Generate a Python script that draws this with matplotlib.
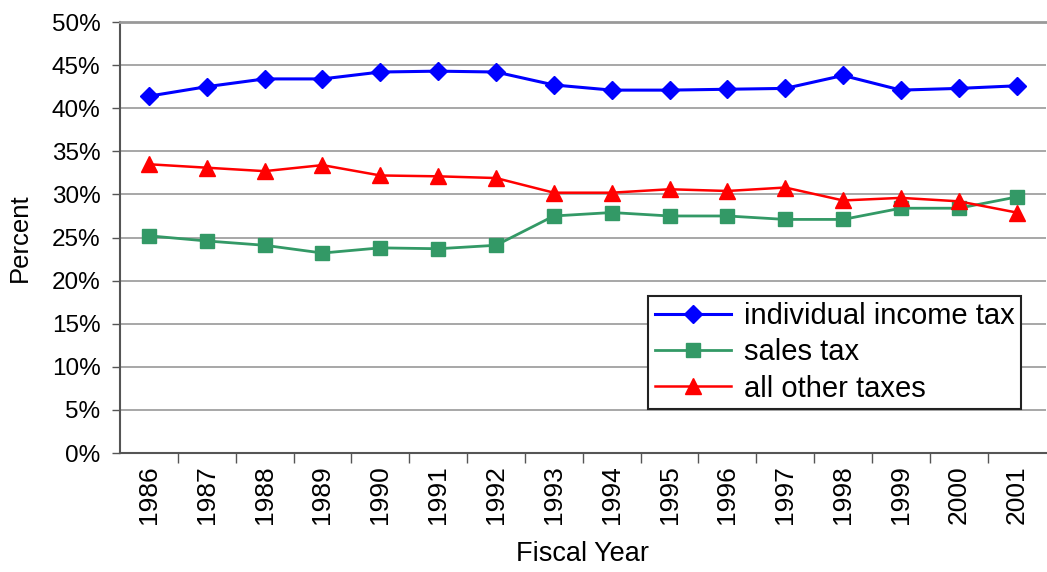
import matplotlib
matplotlib.use('Agg')
import matplotlib.pyplot as plt
import numpy as np
from matplotlib.ticker import FixedLocator, PercentFormatter

plt.rcParams['font.family'] = ['Liberation Sans', 'DejaVu Sans']

years = ['1986', '1987', '1988', '1989', '1990', '1991', '1992', '1993',
         '1994', '1995', '1996', '1997', '1998', '1999', '2000', '2001']

income_tax = [41.4, 42.5, 43.4, 43.4, 44.2, 44.3, 44.2, 42.7,
              42.1, 42.1, 42.2, 42.3, 43.8, 42.1, 42.3, 42.6]
sales_tax = [25.2, 24.6, 24.1, 23.2, 23.8, 23.7, 24.1, 27.5,
             27.9, 27.5, 27.5, 27.1, 27.1, 28.4, 28.4, 29.7]
other_taxes = [33.5, 33.1, 32.7, 33.4, 32.2, 32.1, 31.9, 30.2,
               30.2, 30.6, 30.4, 30.8, 29.3, 29.6, 29.2, 27.9]

fig = plt.figure(figsize=(10.47, 5.72), dpi=100)
ax = fig.add_axes([0.1146, 0.208, 0.884, 0.7535])

x = np.arange(len(years))

ax.plot(x, income_tax, color='#0000ff', linewidth=2.2, marker='D',
        markersize=9.5, label='individual income tax', zorder=4)
ax.plot(x, sales_tax, color='#339966', linewidth=2.0, marker='s',
        markersize=10, label='sales tax', zorder=3)
ax.plot(x, other_taxes, color='#ff0000', linewidth=1.8, marker='^',
        markersize=12, label='all other taxes', zorder=5)

ax.set_xlim(-0.5, len(years) - 0.5)
ax.set_ylim(0, 50)

ax.set_yticks(np.arange(0, 51, 5))
ax.yaxis.set_major_formatter(PercentFormatter(decimals=0))
ax.yaxis.grid(True, color='#a0a0a0', linewidth=1.3)
ax.set_axisbelow(True)

ax.set_xticks(x)
ax.set_xticklabels(years, rotation=90)
ax.xaxis.set_minor_locator(FixedLocator(np.arange(0.5, len(years) - 0.5, 1)))
ax.tick_params(axis='x', which='major', length=0, pad=9, labelsize=19)
ax.tick_params(axis='x', which='minor', length=7, width=1, color='#555555')
ax.tick_params(axis='y', length=6, width=1, color='#555555', labelsize=17.5,
               pad=8)

for side in ['left', 'bottom']:
    ax.spines[side].set_color('#555555')
    ax.spines[side].set_linewidth(1.5)
ax.spines['top'].set_color('#999999')
ax.spines['top'].set_linewidth(2)
ax.spines['right'].set_visible(False)

ax.set_ylabel('Percent', fontsize=18.5, labelpad=14)
ax.set_xlabel('Fiscal Year', fontsize=19.5, labelpad=12)

leg = ax.legend(loc='lower left', bbox_to_anchor=(0.571, 0.102),
                fontsize=21, frameon=True, fancybox=False, framealpha=1,
                edgecolor='#222222', borderaxespad=0, handlelength=2.6,
                handletextpad=0.45, labelspacing=0.28, borderpad=0.22)
leg.get_frame().set_linewidth(1.5)

fig.savefig('out.png', dpi=100)
